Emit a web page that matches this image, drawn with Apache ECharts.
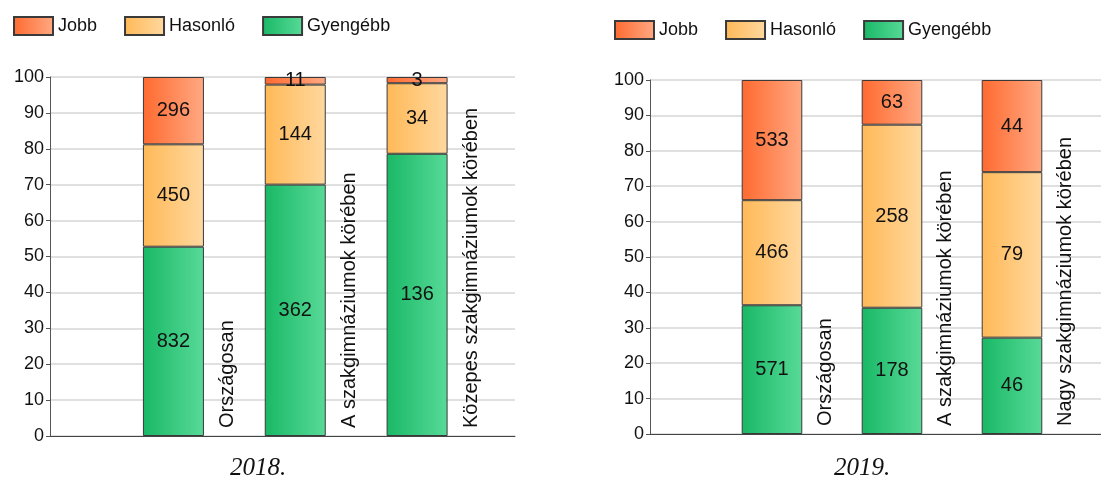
<!DOCTYPE html>
<html>
<head>
<meta charset="utf-8">
<script src="https://cdn.jsdelivr.net/npm/echarts@6/dist/echarts.min.js"></script>
<style>
  html, body { margin: 0; padding: 0; background: #fff; }
  #chart { width: 1101px; height: 478px; }
</style>
</head>
<body>
<div id="chart"></div>
<script>
// kategóriák
const categories2018 = ['Országosan', 'A szakgimnáziumok körében', 'Közepes szakgimnáziumok körében']
const categories2019 = ['Országosan', 'A szakgimnáziumok körében', 'Nagy szakgimnáziumok körében']

// létszámok (a címkéken látható értékek)
const jobb2018 = [296, 11, 3]
const hasonlo2018 = [450, 144, 34]
const gyengebb2018 = [832, 362, 136]

const jobb2019 = [533, 63, 44]
const hasonlo2019 = [466, 258, 79]
const gyengebb2019 = [571, 178, 46]

const legendNames = ['Jobb', 'Hasonló', 'Gyengébb']
const yearLabels = ['2018.', '2019.']

const FONT = '"Liberation Sans", Arial, sans-serif'

const grad = (a, b) => new echarts.graphic.LinearGradient(0, 0, 1, 0, [
  {offset: 0, color: a},
  {offset: 1, color: b}
])
const colors = {
  'Jobb': grad('#ff6a30', '#ffa983'),
  'Hasonló': grad('#ffb957', '#ffd89f'),
  'Gyengébb': grad('#19b866', '#58da98')
}

// 100%-ra normált arány
const share = (parts, all) => parts.map((v, i) => {
  const total = all.reduce((s, arr) => s + arr[i], 0)
  return total ? v / total * 100 : 0
})

const buildSeries = (xIdx, yIdx, cats, gy, ha, jo, barWidth, barGap) => {
  const all = [gy, ha, jo]
  const stackItem = (name, counts) => ({
    name,
    type: 'bar',
    xAxisIndex: xIdx,
    yAxisIndex: yIdx,
    stack: 'total' + xIdx,
    barWidth,
    barGap,
    data: share(counts, all),
    itemStyle: {color: colors[name], borderColor: '#3a3a3a', borderWidth: 1},
    label: {
      show: true,
      position: 'inside',
      color: '#111',
      fontSize: 20,
      fontFamily: FONT,
      formatter: p => String(counts[p.dataIndex])
    },
    silent: true
  })
  return [
    stackItem('Gyengébb', gy),
    stackItem('Hasonló', ha),
    stackItem('Jobb', jo),
    {
      // csak a függőleges kategória felirat miatt
      name: 'kategória',
      type: 'bar',
      xAxisIndex: xIdx,
      yAxisIndex: yIdx,
      barWidth,
      barGap,
      data: cats.map(() => 0),
      itemStyle: {color: 'rgba(0,0,0,0)'},
      label: {
        show: true,
        position: 'insideBottom',
        distance: 8,
        rotate: 90,
        align: 'left',
        verticalAlign: 'middle',
        color: '#111',
        fontSize: 20,
        fontFamily: FONT,
        formatter: p => cats[p.dataIndex]
      },
      silent: true
    }
  ]
}

const backY = (gridIndex) => ({
  type: 'value',
  gridIndex,
  min: 0,
  max: 100,
  interval: 10,
  axisLine: {show: true, lineStyle: {color: '#555', width: 1}},
  axisTick: {show: true, length: 4, lineStyle: {color: '#555'}},
  axisLabel: {color: '#111', fontSize: 18, fontFamily: FONT, margin: 6},
  splitLine: {show: true, lineStyle: {color: '#d6d6d6', width: 1.5}}
})
const backX = (gridIndex) => ({
  type: 'value',
  gridIndex,
  min: 0,
  max: 1,
  axisLine: {show: true, onZero: false, lineStyle: {color: '#444', width: 1}},
  axisTick: {show: false},
  axisLabel: {show: false},
  splitLine: {show: false}
})
const barX = (gridIndex, cats) => ({
  type: 'category',
  gridIndex,
  data: cats,
  axisLine: {show: false},
  axisTick: {show: false},
  axisLabel: {show: false}
})
const barY = (gridIndex) => ({
  type: 'value',
  gridIndex,
  min: 0,
  max: 100,
  show: false
})

const legendBase = {
  data: legendNames,
  icon: 'rect',
  itemWidth: 39,
  itemHeight: 18,
  itemGap: 27,
  selectedMode: false,
  textStyle: {color: '#111', fontSize: 18, fontFamily: FONT}
}

const captionFont = 'italic 25px "Liberation Serif", "Times New Roman", serif'

const option = {
  backgroundColor: '#fff',
  animation: false,
  legend: [
    {...legendBase, left: 8, top: 11},
    {...legendBase, left: 609, top: 15}
  ],
  grid: [
    {left: 50, top: 77, width: 465, height: 359},
    {left: 139.5, top: 77, width: 365.5, height: 359},
    {left: 650, top: 80, width: 451, height: 354},
    {left: 738.5, top: 80, width: 360, height: 354}
  ],
  xAxis: [backX(0), barX(1, categories2018), backX(2), barX(3, categories2019)],
  yAxis: [backY(0), barY(1), backY(2), barY(3)],
  series: [
    ...buildSeries(1, 1, categories2018, gyengebb2018, hasonlo2018, jobb2018, 61, '-11.5%'),
    ...buildSeries(3, 3, categories2019, gyengebb2019, hasonlo2019, jobb2019, 60.6, '-12.5%')
  ],
  graphic: [
    {type: 'text', left: 230, top: 456, style: {text: yearLabels[0], fill: '#111', font: captionFont}},
    {type: 'text', left: 834, top: 456, style: {text: yearLabels[1], fill: '#111', font: captionFont}}
  ]
}

const chart = echarts.init(document.getElementById('chart'))
chart.setOption(option)
</script>
</body>
</html>
